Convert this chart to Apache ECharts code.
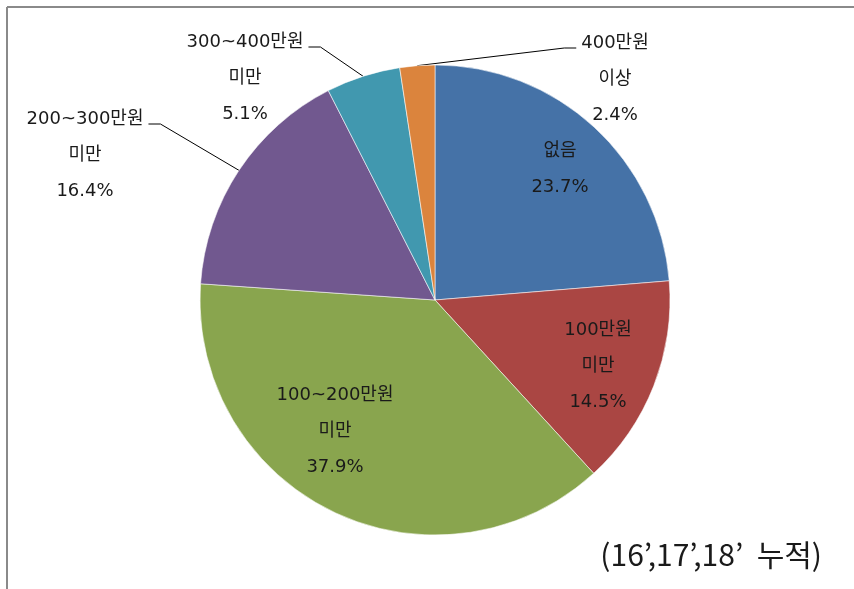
<!DOCTYPE html>
<html>
<head>
<meta charset="utf-8">
<script src="https://cdn.jsdelivr.net/npm/echarts@6/dist/echarts.min.js"></script>
<style>html,body{margin:0;padding:0;background:#fff}#c{width:854px;height:589px}</style>
</head>
<body>
<div id="c"></div>
<script>
// ---- data ----
const categories = ['없음', '100만원\n미만', '100~200만원\n미만', '200~300만원\n미만', '300~400만원\n미만', '400만원\n이상'];
const values = [23.7, 14.5, 37.9, 16.4, 5.1, 2.4];
const colors = ['#4572A7', '#AA4643', '#89A54E', '#71588F', '#4198AF', '#DB843D'];
const outsideIdx = [3, 4, 5];
const note = '(16\u2019,17\u2019,18\u2019  누적)';

// ---- layout ----
const CX = 435, CY = 300, R = 235;
const LH = 36;
// label block centre offsets from pie centre
const labelOffsets = [[125, -131], [163, 66], [-100, 131], [-350, -145], [-190, -222], [180, -221]];
// which side of the label the leader line attaches to (+1 right, -1 left)
const lineSide = [0, 0, 0, 1, 1, -1];

const chart = echarts.init(document.getElementById('c'), null, {renderer: 'canvas'});

const font = '"DejaVu Sans", "Noto Sans CJK KR", sans-serif';

const data = categories.map((name, i) => {
  const outside = outsideIdx.includes(i);
  return {
    name, value: values[i],
    itemStyle: {color: colors[i]},
    label: {position: outside ? 'outside' : 'inside'},
    labelLine: {show: outside}
  };
});

chart.setOption({
  animation: false,
  title: {
    text: note, right: 32, top: 540, padding: 0,
    textStyle: {fontFamily: '"Noto Sans CJK KR", sans-serif', fontSize: 30, fontWeight: 'normal', color: '#1a1a1a'}
  },
  graphic: [
    {type: 'line', shape: {x1: 7, y1: 7, x2: 854, y2: 7}, style: {stroke: '#8a8a8a', lineWidth: 2}},
    {type: 'line', shape: {x1: 7, y1: 7, x2: 7, y2: 589}, style: {stroke: '#8a8a8a', lineWidth: 2}}
  ],
  series: [{
    type: 'pie',
    center: [CX, CY],
    radius: R,
    startAngle: 90,
    clockwise: true,
    avoidLabelOverlap: false,
    itemStyle: {borderColor: 'rgba(255,255,255,0.55)', borderWidth: 1},
    label: {
      formatter: p => p.name + '\n' + p.value.toFixed(1) + '%',
      fontFamily: font, fontSize: 18, color: '#1a1a1a',
      lineHeight: LH, align: 'center'
    },
    labelLine: {lineStyle: {color: '#000', width: 1}},
    emphasis: {disabled: true},
    labelLayout: function (p) {
      const i = p.dataIndex;
      const x = CX + labelOffsets[i][0];
      const y = CY + labelOffsets[i][1];
      const res = {x: x, y: y, align: 'center', verticalAlign: 'middle'};
      if (lineSide[i] !== 0 && p.labelLinePoints) {
        const a = p.labelLinePoints[0];
        const w = p.labelRect.width, h = p.labelRect.height;
        const ly = y - h / 2 + LH / 2 + 5;
        const ex = x + lineSide[i] * (w / 2 + 5);
        const bx = ex + lineSide[i] * 12;
        res.labelLinePoints = [[a[0], a[1]], [bx, ly], [ex, ly]];
      }
      return res;
    },
    data: data
  }]
});
</script>
</body>
</html>
